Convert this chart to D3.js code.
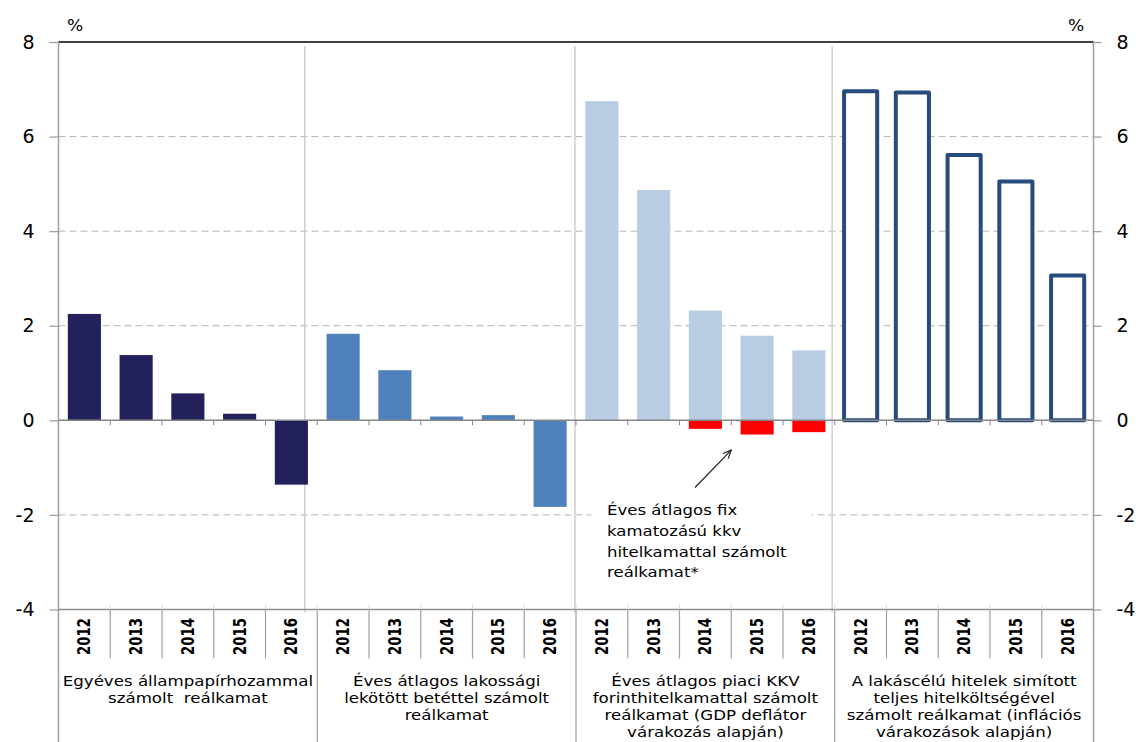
<!DOCTYPE html>
<html>
<head>
<meta charset="utf-8">
<script src="https://cdn.jsdelivr.net/npm/d3@7"></script>
<style>
  html, body { margin: 0; padding: 0; background: #fff; }
  svg { display: block; }
  text { font-family: "DejaVu Sans", sans-serif; fill: #000; white-space: pre; }
</style>
</head>
<body>
<svg id="chart" width="1142" height="742"></svg>
<script>
// Years shown inside every group
const years = ["2012", "2013", "2014", "2015", "2016"];

// Group captions under the category axis (one entry per line)
const groupLabels = [
  ["Egyéves állampapírhozammal", "számolt  reálkamat"],
  ["Éves átlagos lakossági", "lekötött betéttel számolt", "reálkamat"],
  ["Éves átlagos piaci KKV", "forinthitelkamattal számolt", "reálkamat (GDP deflátor", "várakozás alapján)"],
  ["A lakáscélú hitelek simított", "teljes hitelköltségével", "számolt reálkamat (inflációs", "várakozások alapján)"]
];

// Real interest rates, % (one value per year)
const allampapir = [2.25, 1.38, 0.57, 0.14, -1.36];
const betet      = [1.83, 1.06, 0.08, 0.11, -1.83];
const kkvPiaci   = [6.75, 4.87, 2.32, 1.79, 1.48];
const kkvFix     = [null, null, -0.18, -0.30, -0.25];
const lakas      = [6.96, 6.93, 5.61, 5.05, 3.06];

// Value axis ticks
const yTicks = [-4, -2, 0, 2, 4, 6, 8];

// Thin vertical separators inside the plot, in category units
const dividerPos = [4.76, 9.98, 14.95];

// Callout text for the red bars
const noteLines = ["Éves átlagos fix", "kamatozású kkv", "hitelkamattal számolt", "reálkamat*"];

// ---------------------------------------------------------------
const W = 1142, H = 742;
const plot = { left: 58.5, right: 1093.5, top: 42, bottom: 609.5 };
const SX = 1.14; // horizontal text widening

const keys = groupLabels.flatMap((g, gi) => years.map(yr => gi + "-" + yr));

const series = [
  { values: allampapir, group: 0, fill: "#23215b" },
  { values: betet,      group: 1, fill: "#4f81bd" },
  { values: kkvPiaci,   group: 2, fill: "#b8cce4" },
  { values: kkvFix,     group: 2, fill: "#ff0000" }
];
const filledRows = series.flatMap(s => s.values.map((v, i) => ({
  key: s.group + "-" + years[i], value: v, fill: s.fill
}))).filter(d => d.value !== null);
const hollowRows = lakas.map((v, i) => ({ key: "3-" + years[i], value: v }));

const x = d3.scaleBand().domain(keys).range([plot.left, plot.right])
  .paddingInner(0.36).paddingOuter(0.18);
const xi = d3.scaleLinear().domain([0, keys.length]).range([plot.left, plot.right]);
const y = d3.scaleLinear().domain([-4, 8]).range([plot.bottom, plot.top]);

const svg = d3.select("#chart");

// dashed horizontal gridlines
svg.append("g").selectAll("line")
  .data(yTicks.filter(v => v !== 0 && v !== -4 && v !== 8))
  .join("line")
  .attr("x1", plot.left).attr("x2", plot.right)
  .attr("y1", d => y(d)).attr("y2", d => y(d))
  .attr("stroke", "#b5b5b5").attr("stroke-width", 1)
  .attr("stroke-dasharray", "7,4");

// vertical group separators inside the plot
svg.append("g").selectAll("line")
  .data(dividerPos).join("line")
  .attr("x1", d => xi(d)).attr("x2", d => xi(d))
  .attr("y1", y(8) + 4).attr("y2", y(-4) + 3)
  .attr("stroke", "#cfcfcf").attr("stroke-width", 1.5);

// callout background (covers the gridline behind the text)
svg.append("rect")
  .attr("x", xi(10.3)).attr("width", xi(14.55) - xi(10.3))
  .attr("y", y(-1.45)).attr("height", y(-3.6) - y(-1.45))
  .attr("fill", "#fff");

// filled bars
svg.append("g").selectAll("rect")
  .data(filledRows).join("rect")
  .attr("x", d => x(d.key)).attr("width", x.bandwidth())
  .attr("y", d => y(Math.max(0, d.value)))
  .attr("height", d => Math.abs(y(d.value) - y(0)))
  .attr("fill", d => d.fill);

// outlined bars
svg.append("g").selectAll("rect")
  .data(hollowRows).join("rect")
  .attr("x", d => x(d.key)).attr("width", x.bandwidth())
  .attr("y", d => y(d.value))
  .attr("height", d => y(0) - y(d.value))
  .attr("fill", "#fff").attr("stroke", "#264b7d")
  .attr("stroke-width", 4).attr("stroke-linejoin", "round");

// zero line with small tick marks at category boundaries
svg.append("line")
  .attr("x1", plot.left).attr("x2", plot.right)
  .attr("y1", y(0)).attr("y2", y(0))
  .attr("stroke", "#858585").attr("stroke-width", 1.5);
svg.append("g").selectAll("line")
  .data(d3.range(1, keys.length)).join("line")
  .attr("x1", d => xi(d)).attr("x2", d => xi(d))
  .attr("y1", y(0)).attr("y2", y(0) + 5)
  .attr("stroke", "#858585").attr("stroke-width", 1);

// frame: top line, side axes, bottom axis line
svg.append("line")
  .attr("x1", plot.left).attr("x2", plot.right)
  .attr("y1", y(8)).attr("y2", y(8))
  .attr("stroke", "#000").attr("stroke-width", 1.5);
[plot.left, plot.right].forEach(px => {
  svg.append("line")
    .attr("x1", px).attr("x2", px).attr("y1", y(8)).attr("y2", H)
    .attr("stroke", "#a0a0a0").attr("stroke-width", 1.5);
});
svg.append("line")
  .attr("x1", plot.left).attr("x2", plot.right)
  .attr("y1", y(-4)).attr("y2", y(-4))
  .attr("stroke", "#8f8f8f").attr("stroke-width", 1.5);

// faint tick marks above the bottom axis
svg.append("g").selectAll("line")
  .data(d3.range(1, keys.length)).join("line")
  .attr("x1", d => xi(d)).attr("x2", d => xi(d))
  .attr("y1", y(-4) - 5).attr("y2", y(-4))
  .attr("stroke", "#dcdcdc").attr("stroke-width", 1);

// category separators below the axis
svg.append("g").selectAll("line")
  .data(d3.range(1, keys.length)).join("line")
  .attr("x1", d => xi(d)).attr("x2", d => xi(d))
  .attr("y1", y(-4))
  .attr("y2", d => d % years.length === 0 ? H : y(-4) + 49)
  .attr("stroke", "#a0a0a0").attr("stroke-width", 1.2);

// value axes
const fmt = d => String(d);
const leftAxis = svg.append("g")
  .attr("transform", `translate(${plot.left},0)`)
  .call(d3.axisLeft(y).tickValues(yTicks).tickSize(9).tickPadding(15).tickFormat(fmt));
const rightAxis = svg.append("g")
  .attr("transform", `translate(${plot.right},0)`)
  .call(d3.axisRight(y).tickValues(yTicks).tickSize(8).tickPadding(15).tickFormat(fmt));
[leftAxis, rightAxis].forEach(a => {
  a.select(".domain").remove();
  a.selectAll(".tick line").attr("stroke", "#999").attr("stroke-width", 1.2);
  a.selectAll(".tick text")
    .style("font-family", "'DejaVu Sans', sans-serif")
    .style("font-size", "19px").attr("fill", "#000");
});

// unit labels
svg.append("text").attr("transform", `translate(75,31) scale(${SX},1)`)
  .attr("text-anchor", "middle").style("font-size", "15px").text("%");
svg.append("text").attr("transform", `translate(1076,31) scale(${SX},1)`)
  .attr("text-anchor", "middle").style("font-size", "15px").text("%");

// year labels (rotated)
svg.append("g").selectAll("text")
  .data(keys).join("text")
  .attr("transform", d => `translate(${x(d) + x.bandwidth() / 2},${y(-4) + 27}) scale(${SX},1) rotate(-90)`)
  .attr("text-anchor", "middle").attr("dy", "0.36em")
  .style("font-family", "'DejaVu Sans Condensed', 'DejaVu Sans', sans-serif")
  .style("font-weight", "bold").style("font-size", "14.8px")
  .text(d => d.split("-")[1]);

// group captions
groupLabels.forEach((lines, gi) => {
  const cx = xi(gi * years.length + years.length / 2);
  svg.append("g").selectAll("text")
    .data(lines).join("text")
    .attr("transform", (d, i) => `translate(${cx},${686 + i * 17}) scale(${SX},1)`)
    .attr("text-anchor", "middle").style("font-size", "14.6px")
    .text(d => d);
});

// callout text and arrow
svg.append("g").selectAll("text")
  .data(noteLines).join("text")
  .attr("transform", (d, i) => `translate(${xi(10.6)},${y(-2) + i * 20.8}) scale(${SX},1)`)
  .style("font-size", "14.5px")
  .text(d => d);

const ax1 = xi(12.3), ay1 = y(-1.42), ax2 = xi(13.0), ay2 = y(-0.63);
svg.append("line")
  .attr("x1", ax1).attr("y1", ay1).attr("x2", ax2).attr("y2", ay2)
  .attr("stroke", "#222").attr("stroke-width", 1.2);
const ang = Math.atan2(ay2 - ay1, ax2 - ax1);
const head = 9, spread = 0.42;
svg.append("path")
  .attr("d", `M${ax2 - head * Math.cos(ang - spread)},${ay2 - head * Math.sin(ang - spread)}` +
             `L${ax2},${ay2}` +
             `L${ax2 - head * Math.cos(ang + spread)},${ay2 - head * Math.sin(ang + spread)}`)
  .attr("fill", "none").attr("stroke", "#222").attr("stroke-width", 1.2);
</script>
</body>
</html>
